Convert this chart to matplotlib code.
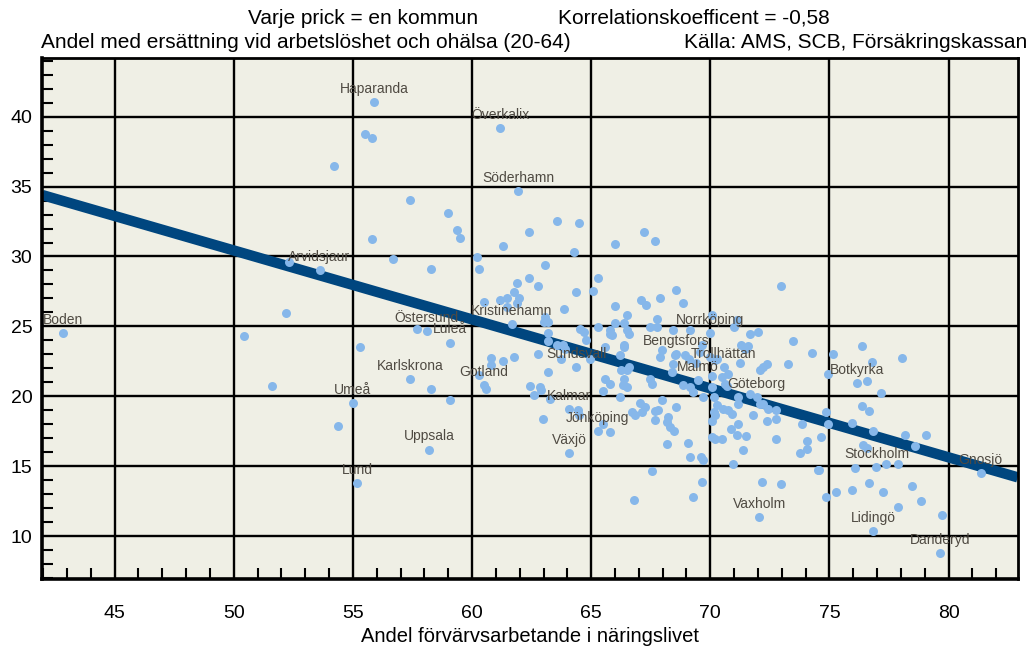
import matplotlib
matplotlib.use("Agg")
import matplotlib.pyplot as plt
from matplotlib.ticker import MultipleLocator

plt.rcParams['font.family'] = ['Liberation Sans', 'DejaVu Sans']

# kommuner utan etikett: andel förvärvsarbetande i näringslivet / andel med ersättning
x_vals = [55.51, 55.82, 54.20, 57.41, 58.99, 59.39, 59.49, 55.80, 56.70, 58.29,
          60.19, 60.29, 61.28, 52.31, 52.20, 60.49, 61.18, 61.46, 61.78, 61.88,
          61.46, 50.42, 51.61, 55.30, 54.39, 58.29, 59.09, 57.69, 60.28, 60.60,
          60.78, 60.78, 61.28, 61.78, 62.37, 63.57, 64.47, 64.27, 66.00, 67.20,
          67.67, 63.08, 62.38, 62.78, 61.99, 61.88, 63.88, 64.37, 65.08, 65.28,
          66.00, 66.50, 66.00, 66.39, 63.07, 63.18, 63.00, 67.10, 67.28, 64.54,
          64.70, 64.78, 65.28, 65.78, 66.49, 66.60, 68.56, 67.89, 68.87, 72.97,
          67.78, 70.07, 71.10, 71.00, 67.47, 67.75, 68.45, 69.15, 71.98, 71.67,
          63.18, 63.18, 63.56, 63.80, 63.90, 65.58, 65.80, 65.88, 66.36, 66.39,
          73.47, 74.27, 73.27, 71.29, 71.57, 71.46, 71.26, 72.37, 72.22, 72.08,
          70.26, 70.75, 70.48, 70.62, 70.69, 69.99, 70.07, 70.21, 69.55, 69.63,
          69.40, 68.45, 68.38, 68.53, 67.97, 67.89, 66.19, 66.38, 66.33, 66.49,
          66.59, 66.49, 66.24, 67.47, 67.57, 68.87, 69.15, 69.26, 69.68, 70.07,
          70.17, 65.59, 65.80, 65.49, 66.19, 67.99, 68.57, 67.05, 67.26, 67.12,
          66.70, 66.84, 67.68, 67.80, 67.68, 68.24, 68.17, 68.31, 68.48, 68.17,
          69.05, 69.15, 69.61, 69.68, 67.57, 70.07, 70.17, 70.07, 70.21, 70.48,
          70.26, 70.54, 70.75, 70.89, 71.18, 71.67, 72.09, 72.23, 72.44, 72.76,
          71.18, 70.86, 71.11, 71.50, 71.36, 71.79, 72.37, 72.76, 72.76, 73.76,
          74.04, 74.07, 73.86, 70.97, 74.50, 62.44, 62.58, 62.86, 62.89, 63.18,
          62.78, 63.28, 64.44, 64.51, 62.98, 65.77, 65.49, 63.73, 64.96, 66.78,
          75.16, 74.95, 68.94, 69.12, 71.18, 70.21, 74.84, 74.95, 74.64, 69.67,
          69.26, 72.18, 72.97, 74.57, 74.84, 75.29, 76.35, 76.77, 78.05, 76.56,
          77.16, 76.35, 76.66, 75.96, 76.84, 78.17, 79.05, 78.57, 76.42, 76.56,
          77.39, 77.88, 76.06, 76.66, 78.45, 75.96, 77.26, 78.84, 77.88, 79.74]
y_vals = [38.76, 38.45, 36.45, 34.05, 33.14, 31.86, 31.33, 31.24, 29.84, 29.14,
          29.93, 29.14, 30.74, 29.64, 25.93, 26.74, 26.86, 27.02, 27.43, 28.12,
          26.38, 24.31, 20.71, 23.52, 17.91, 20.52, 19.71, 24.84, 21.50, 20.52,
          22.74, 22.26, 22.50, 22.81, 31.74, 32.55, 32.43, 30.33, 30.86, 31.74,
          31.14, 29.36, 28.45, 27.86, 27.05, 26.67, 26.24, 27.43, 27.55, 28.45,
          26.45, 25.84, 25.26, 25.26, 25.66, 25.31, 25.31, 26.86, 26.55, 24.79,
          24.60, 24.00, 24.95, 24.71, 24.71, 24.43, 27.62, 27.05, 26.64, 27.86,
          25.52, 25.84, 25.43, 24.95, 24.95, 24.95, 24.71, 24.71, 24.60, 24.48,
          24.55, 23.95, 23.64, 23.64, 23.41, 23.52, 24.48, 24.41, 23.64, 23.52,
          23.93, 23.12, 22.29, 23.69, 23.59, 23.36, 22.41, 22.33, 22.09, 21.86,
          22.69, 21.62, 21.38, 20.91, 20.71, 22.81, 21.45, 22.57, 23.16, 23.64,
          22.38, 22.33, 21.74, 22.98, 23.33, 22.81, 22.93, 21.26, 20.79, 20.67,
          22.09, 21.86, 21.91, 21.26, 20.91, 20.79, 20.67, 20.31, 19.95, 20.67,
          19.95, 21.21, 20.91, 20.36, 19.95, 19.71, 19.24, 19.55, 19.24, 18.88,
          18.88, 18.64, 18.93, 19.00, 18.33, 18.52, 18.17, 17.81, 17.52, 16.62,
          16.69, 15.67, 15.67, 15.43, 14.66, 18.24, 18.84, 17.09, 16.98, 16.91,
          19.36, 19.12, 19.00, 18.76, 19.95, 20.19, 19.48, 19.48, 19.12, 19.00,
          18.05, 17.69, 17.21, 17.14, 16.19, 18.69, 18.21, 18.41, 16.91, 15.95,
          16.26, 16.81, 18.00, 15.14, 14.76, 20.71, 20.12, 20.67, 20.43, 21.74,
          23.00, 19.83, 19.00, 18.64, 18.41, 17.41, 18.05, 22.69, 22.69, 12.57,
          23.00, 21.62, 22.93, 22.69, 19.48, 18.69, 18.84, 18.00, 17.09, 13.88,
          12.81, 13.88, 13.71, 14.71, 12.81, 13.17, 23.62, 22.43, 22.71, 21.09,
          20.24, 19.29, 18.93, 18.12, 17.52, 17.21, 17.21, 16.43, 16.50, 16.31,
          15.19, 15.19, 14.84, 13.81, 13.60, 13.29, 13.17, 12.50, 12.10, 11.50]

# kommuner med namn
names = ['Haparanda', 'Överkalix', 'Söderhamn', 'Arvidsjaur', 'Boden',
         'Kristinehamn', 'Östersund', 'Luleå', 'Karlskrona', 'Gotland',
         'Umeå', 'Uppsala', 'Lund', 'Sundsvall', 'Kalmar', 'Jönköping',
         'Växjö', 'Norrköping', 'Bengtsfors', 'Trollhättan', 'Malmö',
         'Göteborg', 'Botkyrka', 'Stockholm', 'Gnosjö', 'Vaxholm',
         'Lidingö', 'Danderyd']
names_x = [55.90, 61.18, 61.95, 53.60, 42.82, 61.67, 58.10, 59.09, 57.40, 60.49,
           55.00, 58.19, 55.19, 64.37, 64.09, 65.27, 64.09, 70.00, 68.56, 70.57,
           69.47, 71.95, 76.17, 76.97, 81.34, 72.06, 76.84, 79.65]
names_y = [41.05, 39.17, 34.65, 29.05, 24.52, 25.14, 24.64, 23.84, 21.21, 20.79,
           19.50, 16.19, 13.81, 22.09, 19.07, 17.50, 15.95, 24.50, 23.00, 22.09,
           21.14, 19.95, 20.95, 14.91, 14.52, 11.38, 10.38, 8.76]

# regressionslinje
trend_x = [41.96, 82.9]
trend_y = [34.4, 14.2]

x_ticks = [45, 50, 55, 60, 65, 70, 75, 80]
y_ticks = [10, 15, 20, 25, 30, 35, 40]

fig = plt.figure(figsize=(10.28, 6.48), dpi=100)
ax = fig.add_axes([0.041, 0.1065, 0.949, 0.804])
ax.set_facecolor('#EFEFE5')

ax.plot(trend_x, trend_y, color='#00467F', lw=7.5, solid_capstyle='butt', zorder=2)
ax.scatter(x_vals + names_x, y_vals + names_y, s=42, color='#86B7EA',
           linewidths=0, zorder=3)
for n, x, y in zip(names, names_x, names_y):
    ax.annotate(n, (x, y), xytext=(0, 9.5), textcoords='offset points',
                ha='center', va='center', fontsize=10, color='#4F4A42', zorder=4)

ax.set_xlim(41.96, 82.9)
ax.set_ylim(6.93, 44.2)
ax.set_xticks(x_ticks)
ax.set_yticks(y_ticks)
ax.xaxis.set_minor_locator(MultipleLocator(1))
ax.yaxis.set_minor_locator(MultipleLocator(1))
ax.grid(True, which='major', color='black', lw=1.7)
ax.set_axisbelow(True)
ax.tick_params(which='major', direction='in', length=0, labelsize=14)
ax.tick_params(axis='x', which='major', pad=19)
ax.tick_params(axis='y', which='major', pad=7)
ax.tick_params(which='minor', direction='in', length=8, width=1.5, color='black')
for side in ['left', 'bottom']:
    ax.spines[side].set_linewidth(2.6)
for side in ['top', 'right']:
    ax.spines[side].set_linewidth(2.0)

ax.set_xlabel('Andel förvärvsarbetande i näringslivet', fontsize=14.5, labelpad=3)

fig.text(0.241, 0.972, 'Varje prick = en kommun', fontsize=15, va='center')
fig.text(0.543, 0.972, 'Korrelationskoefficent = -0,58', fontsize=15, va='center')
fig.text(0.040, 0.934, 'Andel med ersättning vid arbetslöshet och ohälsa (20-64)',
         fontsize=15, va='center')
fig.text(0.999, 0.934, 'Källa: AMS, SCB, Försäkringskassan', fontsize=15,
         va='center', ha='right')

fig.savefig('out.png', dpi=100)
